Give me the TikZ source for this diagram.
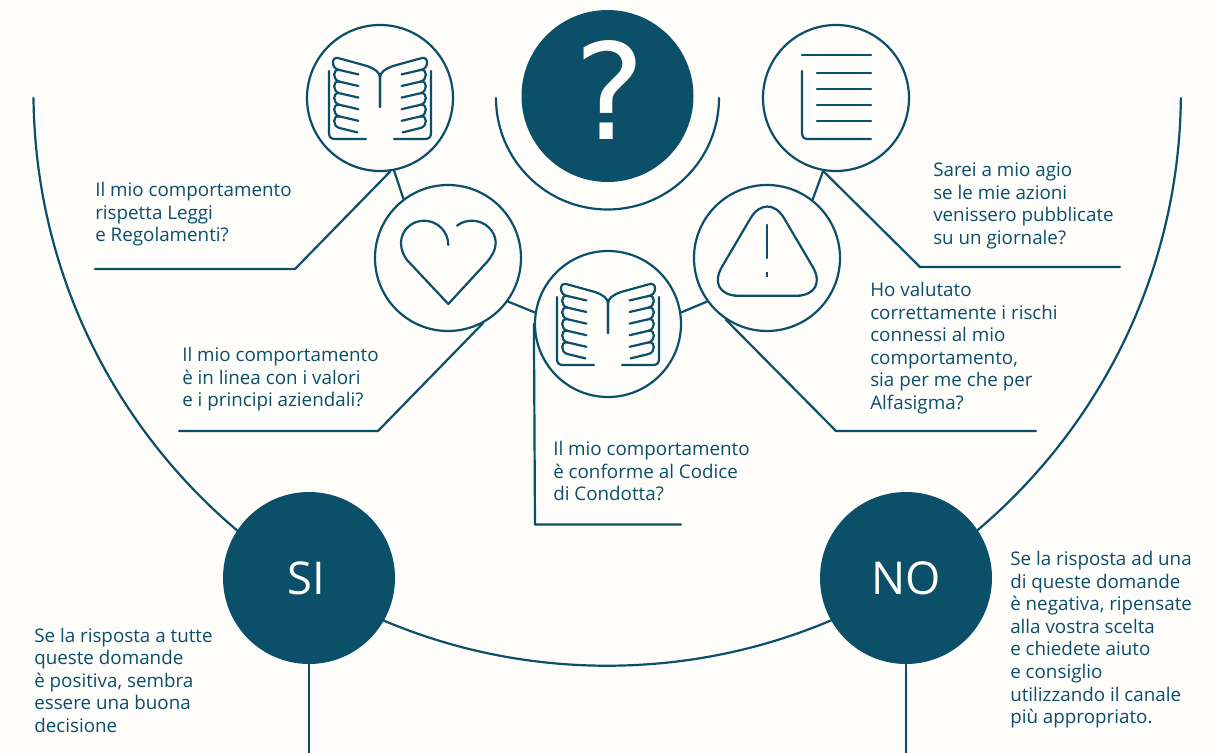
\documentclass[tikz,border=0pt]{standalone}
\usepackage{fontspec}
\setmainfont{Open Sans}
\newfontfamily\qfont{DejaVu Sans}
\definecolor{teal}{HTML}{0B4F69}
\definecolor{paper}{HTML}{FEFDF9}
\tikzset{
  x=0.75pt,y=-0.75pt,
  ln/.style={draw=teal,line width=1.65pt,line cap=round,line join=round},
  ring/.style={circle,draw=teal,line width=1.65pt,fill=paper,minimum size=109.5pt,inner sep=0pt},
  disc/.style={circle,fill=teal,text=paper,minimum size=129pt,inner sep=0pt},
  txt/.style={anchor=north west,inner sep=0pt,align=left,text=teal,font=\fontsize{14.1}{16.95}\selectfont},
  pics/bookicon/.style={code={
    \foreach \s in {1,-1}{
      \begin{scope}[xscale=\s]
        \draw[ln] (-51,-27) -- (-51,35) .. controls (-51,39) and (-49,41) .. (-45,41) -- (-14,41);
        \draw[ln] (0,9) -- (0,-20) .. controls (0,-26) and (-5,-29) .. (-13,-32) -- (-42,-40)
          .. controls (-49,-41.5) and (-49,-29) .. (-40.6,-28);
        \foreach \i in {0,...,4}{
          \pgfmathsetmacro\yy{-28+11.6*\i}
          \draw[ln] (-21.6,\yy+4.4) -- (-40.6,\yy) .. controls (-47.6,\yy-1.5) and (-47.6,\yy+10) .. (-40.6,\yy+11.6);
        }
        \draw[ln] (-22.6,34.4) -- (-40.6,30);
      \end{scope}
    }
  }},
}
\begin{document}
\begin{tikzpicture}
\useasboundingbox (0,0) rectangle (1215,753);
\fill[paper] (0,0) rectangle (1215,753);

% big arcs
\coordinate (arcL) at (33.5,98);
\coordinate (arcT) at (496,98);
\draw[ln] (arcL) arc[start angle=179.4,end angle=0.6,radius=573.75];
\draw[ln] (arcT) arc[start angle=180,end angle=0,radius=111.5];

% circles
\node[disc] (q) at (607.5,96) {\hspace*{3pt}\raisebox{9pt}{\qfont\fontsize{100}{100}\selectfont ?}};
\node[ring] (bookA) at (380,98) {};
\node[ring] (doc) at (836,98) {};
\node[ring] (heart) at (448,258) {};
\node[ring] (bookB) at (608,324) {};
\node[ring] (warn) at (767,258) {};
\node[disc] (si) at (309,578) {\hspace*{-4pt}\fontsize{34}{34}\selectfont SI};
\node[disc] (no) at (906,578) {\fontsize{34}{34}\selectfont NO};

% links between circles
\draw[ln] (bookA.-79) -- (heart.127);
\draw[ln] (heart.-36) -- (bookB.171);
\draw[ln] (bookB.9.6) -- (warn.216);
\draw[ln] (warn.52.7) -- (doc.-100);

% leaders
\coordinate (a1) at (295,269); \coordinate (a2) at (95,269);
\coordinate (b1) at (378,431); \coordinate (b2) at (179,431);
\coordinate (c1) at (535,524.5); \coordinate (c2) at (681,524.5);
\coordinate (d1) at (836,431); \coordinate (d2) at (1036,431);
\coordinate (e1) at (920,267); \coordinate (e2) at (1120,267);
\coordinate (f1) at (309,753); \coordinate (g1) at (906,753);
\draw[ln] (bookA.-82) -- (a1) -- (a2);
\draw[ln] (heart.-62) -- (b1) -- (b2);
\draw[ln] (bookB.180) -- (c1) -- (c2);
\draw[ln] (warn.236) -- (d1) -- (d2);
\draw[ln] (doc.-100) -- (e1) -- (e2);
\draw[ln,line cap=butt] (si.south) -- (f1);
\draw[ln,line cap=butt] (no.south) -- (g1);

% icons
\pic at (380,98) {bookicon};
\pic at (608,324) {bookicon};
% document
\draw[ln] (802,55) -- (871,55);
\draw[ln] (802,71) -- (802,133) .. controls (802,137) and (804,139) .. (808,139) -- (871,139);
\draw[ln] (817,73) -- (871,73) (817,89) -- (871,89) (817,105) -- (871,105) (817,121) -- (871,121);
% heart
\draw[ln] (448.3,245) .. controls (448.3,231) and (437,220.7) .. (424,220.7)
  .. controls (411,220.7) and (401,231) .. (401,243)
  .. controls (401,250) and (404,256) .. (407,260) -- (448.3,304) -- (487,262)
  .. controls (492,256) and (495.7,250) .. (495.7,243)
  .. controls (495.7,231) and (485,220.7) .. (472,220.7)
  .. controls (466,220.7) and (461,222.5) .. (457,225.7);
% warning
\draw[ln,rounded corners=25pt] (767.3,295.7) -- (829.7,295.7) -- (767.3,189.7) -- (705,295.7) -- cycle;
\draw[ln] (767.3,225) -- (767.3,258);
\draw[ln,line cap=butt] (767.3,272) -- (767.3,277);

% texts
\node[txt] (t1) at (95,182) {Il mio comportamento\\rispetta Leggi\\e Regolamenti?};
\node[txt] (t2) at (182,347) {Il mio comportamento\\è in linea con i valori\\e i principi aziendali?};
\node[txt] (t3) at (553,441) {Il mio comportamento\\è conforme al Codice\\di Condotta?};
\node[txt] (t4) at (933,162.5) {Sarei a mio agio\\se le mie azioni\\venissero pubblicate\\su un giornale?};
\node[txt] (t5) at (870,282) {Ho valutato\\correttamente i rischi\\connessi al mio\\comportamento,\\sia per me che per\\Alfasigma?};
\node[txt] (t6) at (34,627.5) {Se la risposta a tutte\\queste domande\\è positiva, sembra\\essere una buona\\decisione};
\node[txt] (t7) at (1010,551) {Se la risposta ad una\\di queste domande\\è negativa, ripensate\\alla vostra scelta\\e chiedete aiuto\\e consiglio\\utilizzando il canale\\più appropriato.};
\end{tikzpicture}
\end{document}
